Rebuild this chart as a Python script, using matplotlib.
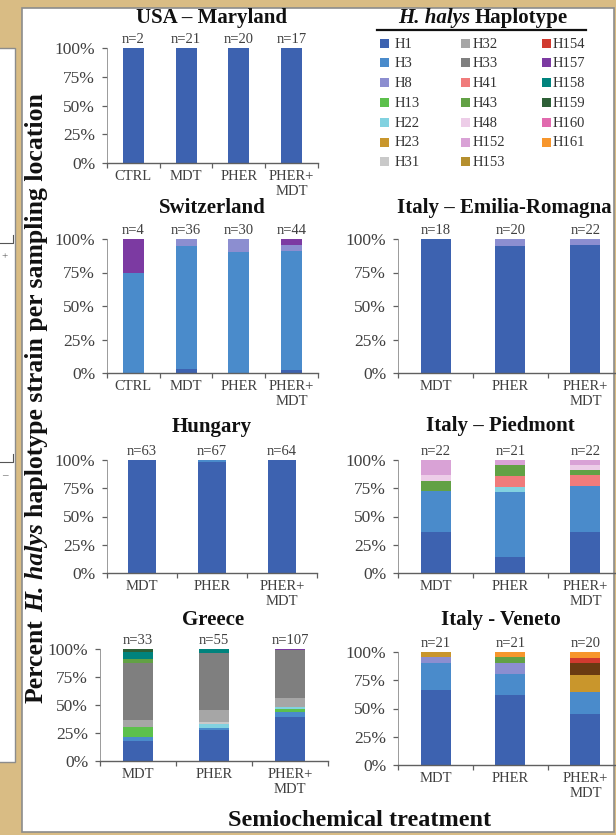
import matplotlib
matplotlib.use("Agg")
import matplotlib.pyplot as plt
from matplotlib.patches import Rectangle
import numpy as np

W, H = 616, 835
DPI = 100

plt.rcParams['font.family'] = ['Liberation Serif', 'DejaVu Serif']

# ---------------- data ----------------
haplotypes = ["H1", "H3", "H8", "H13", "H22", "H23", "H31",
              "H32", "H33", "H41", "H43", "H48", "H152", "H153",
              "H154", "H157", "H158", "H159", "H160", "H161"]
hap_colors = ["#3D62B0", "#4A8BCB", "#8C8ED0", "#5CC04C", "#82D2E0", "#C9962C", "#C9C9C9",
              "#A6A6A6", "#7F7F7F", "#F07B7B", "#62A145", "#EDCDE8", "#D9A2D6", "#B58F2E",
              "#D13A2F", "#7C3AA2", "#00837D", "#2D5F36", "#E16AAE", "#F7962C"]
bar_color_override = {"H153": "#6A3A12"}

cats4 = ["CTRL", "MDT", "PHER", "PHER+\nMDT"]
cats3 = ["MDT", "PHER", "PHER+\nMDT"]

maryland_n = [2, 21, 20, 17]
maryland_counts = {"H1": [2, 21, 20, 17]}

switzerland_n = [4, 36, 30, 44]
switzerland_counts = {"H1": [0, 1, 0, 1], "H3": [3, 33, 27, 39],
                      "H8": [0, 2, 3, 2], "H157": [1, 0, 0, 2]}

emilia_n = [18, 20, 22]
emilia_counts = {"H1": [18, 19, 21], "H8": [0, 1, 1]}

hungary_n = [63, 67, 64]
hungary_counts = {"H1": [63, 66, 64], "H3": [0, 1, 0]}

piedmont_n = [22, 21, 22]
piedmont_counts = {"H1": [8, 3, 8], "H3": [8, 12, 9], "H22": [0, 1, 0],
                   "H41": [0, 2, 2], "H43": [2, 2, 1], "H48": [1, 0, 1],
                   "H152": [3, 1, 1]}

greece_n = [33, 55, 107]
greece_counts = {"H1": [6, 15, 42], "H3": [1, 1, 5], "H13": [3, 0, 3],
                 "H22": [0, 2, 2], "H31": [0, 1, 0], "H32": [2, 6, 8],
                 "H33": [17, 28, 46], "H43": [1, 0, 0], "H157": [0, 0, 1],
                 "H158": [2, 2, 0], "H159": [1, 0, 0]}

veneto_n = [21, 21, 20]
veneto_counts = {"H1": [14, 13, 9], "H3": [5, 4, 4], "H8": [1, 2, 0],
                 "H23": [1, 0, 3], "H43": [0, 1, 0], "H153": [0, 0, 2],
                 "H154": [0, 0, 1], "H161": [0, 1, 1]}

yticks = [0, 25, 50, 75, 100]
ytick_labels = ["0%", "25%", "50%", "75%", "100%"]

ylabel_pieces = [("Percent", "normal"), ("H. halys", "italic"),
                 ("haplotype strain per sampling location", "normal")]
legend_title_pieces = [("H. halys", "italic"), ("Haplotype", "normal")]
xlabel_text = "Semiochemical treatment"

# ---------------- figure ----------------
fig = plt.figure(figsize=(W / DPI, H / DPI), dpi=DPI)
fig.patch.set_facecolor("#D9BC84")
renderer = fig.canvas.get_renderer()

bg = fig.add_axes([0, 0, 1, 1], zorder=-10)
bg.set_xlim(0, W)
bg.set_ylim(H, 0)
bg.axis("off")
# main white panel
bg.add_patch(Rectangle((22, 8), 592, 824, facecolor="white", edgecolor="#8C8C8C", lw=1.2))
# neighbouring poster panel on the left
bg.add_patch(Rectangle((-5, 48), 20, 714, facecolor="white", edgecolor="#8C8C8C", lw=1.0))
for yb, sign in ((243, "+"), (462, "\u2013")):
    bg.plot([0, 13, 13], [yb, yb, yb - 8], color="#555555", lw=0.8)
    bg.text(5, yb + 14, sign, fontsize=8, color="#555555", ha="center", va="center")

col_map = dict(zip(haplotypes, hap_colors))


def text_width(s, size, style):
    t = fig.text(0, 0, s, fontsize=size, fontweight="bold", style=style)
    w = t.get_window_extent(renderer).width
    t.remove()
    return w


def rich_text(cx, base, pieces, size, vertical=False):
    """Draw bold text pieces (some italic) centred at cx (px) on baseline base (px)."""
    widths = [text_width(s, size, st) for s, st in pieces]
    space = text_width("x x", size, "normal") - text_width("xx", size, "normal")
    total = sum(widths) + space * (len(pieces) - 1)
    pos = -total / 2
    for (s, st), w in zip(pieces, widths):
        if vertical:
            fig.text(base / W, 1 - (cx - pos) / H, s, rotation=90, rotation_mode="anchor",
                     ha="left", va="baseline", fontsize=size, fontweight="bold",
                     style=st, color="#111111")
        else:
            fig.text((cx + pos) / W, 1 - base / H, s, ha="left", va="baseline",
                     fontsize=size, fontweight="bold", style=st, color="#111111")
        pos += w + space


def px_axes(left, top, right, bottom):
    return fig.add_axes([left / W, 1 - bottom / H, (right - left) / W, (bottom - top) / H])


def draw_panel(box, cats, n, counts, title, title_x, title_base):
    ax = px_axes(*box)
    ncat = len(cats)
    x = np.arange(ncat) + 0.5
    base = np.zeros(ncat)
    nn = np.array(n, dtype=float)
    for h in haplotypes:
        if h in counts:
            vals = np.array(counts[h], dtype=float) / nn * 100
            ax.bar(x, vals, 0.4, bottom=base,
                   color=bar_color_override.get(h, col_map[h]), linewidth=0)
            base += vals
    ax.set_xlim(0, ncat)
    ax.set_ylim(0, 100)
    ax.set_yticks(yticks)
    ax.set_yticklabels(ytick_labels)
    ax.set_xticks(np.arange(ncat + 1))
    ax.set_xticklabels([])
    ax.set_xticks(x, minor=True)
    ax.set_xticklabels(cats, minor=True)
    ax.tick_params(axis="x", which="minor", length=0, labelsize=10.5, pad=5, colors="#404040")
    ax.tick_params(axis="x", which="major", length=3.5, direction="out", color="#606060", width=0.9)
    ax.tick_params(axis="y", length=3.5, direction="out", labelsize=12.5, pad=5,
                   color="#606060", labelcolor="#404040", width=0.9)
    for s in ("top", "right"):
        ax.spines[s].set_visible(False)
    ax.spines["left"].set_color("#8A8A8A")
    ax.spines["left"].set_linewidth(0.6)
    ax.spines["bottom"].set_color("#606060")
    ax.spines["bottom"].set_linewidth(1.0)
    ax.patch.set_alpha(0)
    for xi, ni in zip(x, n):
        ax.annotate(f"n={ni}", (xi, 100), xytext=(0, 3.5), textcoords="offset points",
                    ha="center", va="baseline", fontsize=10.5, color="#404040",
                    annotation_clip=False)
    fig.text(title_x / W, 1 - title_base / H, title, ha="center", va="baseline",
             fontsize=15, fontweight="bold", color="#111111")
    return ax


draw_panel((107, 48, 318, 163), cats4, maryland_n, maryland_counts,
           "USA \u2013 Maryland", 212, 23)
draw_panel((107, 239, 318, 373), cats4, switzerland_n, switzerland_counts,
           "Switzerland", 212, 213)
draw_panel((107, 460, 317, 573), cats3, hungary_n, hungary_counts,
           "Hungary", 212, 432)
draw_panel((100, 649, 328, 761), cats3, greece_n, greece_counts,
           "Greece", 213, 625)
draw_panel((398, 239, 623, 373), cats3, emilia_n, emilia_counts,
           "Italy \u2013 Emilia-Romagna", 504, 213)
draw_panel((398, 460, 623, 573), cats3, piedmont_n, piedmont_counts,
           "Italy \u2013 Piedmont", 500, 431)
draw_panel((398, 652, 623, 765), cats3, veneto_n, veneto_counts,
           "Italy - Veneto", 501, 625)

# ---------------- legend ----------------
rich_text(483, 23, legend_title_pieces, 15)
bg.plot([377, 586], [30, 30], color="#111111", lw=1.6)
col_sq_x = [380, 461, 542]
col_lab_x = [395, 473, 553]
row_y0, row_dy = 43, 19.8
for i, (h, c) in enumerate(zip(haplotypes, hap_colors)):
    col, row = divmod(i, 7)
    yc = row_y0 + row * row_dy
    bg.add_patch(Rectangle((col_sq_x[col], yc - 4.5), 9, 9, facecolor=c, edgecolor="none"))
    bg.text(col_lab_x[col], yc + 1, h, fontsize=10.5, color="#333333", ha="left", va="center")

# ---------------- axis titles ----------------
rich_text(398, 43, ylabel_pieces, 18.5, vertical=True)
fig.text(360 / W, 1 - 820 / H, xlabel_text, ha="center", va="center",
         fontsize=17.5, fontweight="bold", color="#111111")

fig.savefig("out.png", dpi=DPI, facecolor=fig.get_facecolor())
